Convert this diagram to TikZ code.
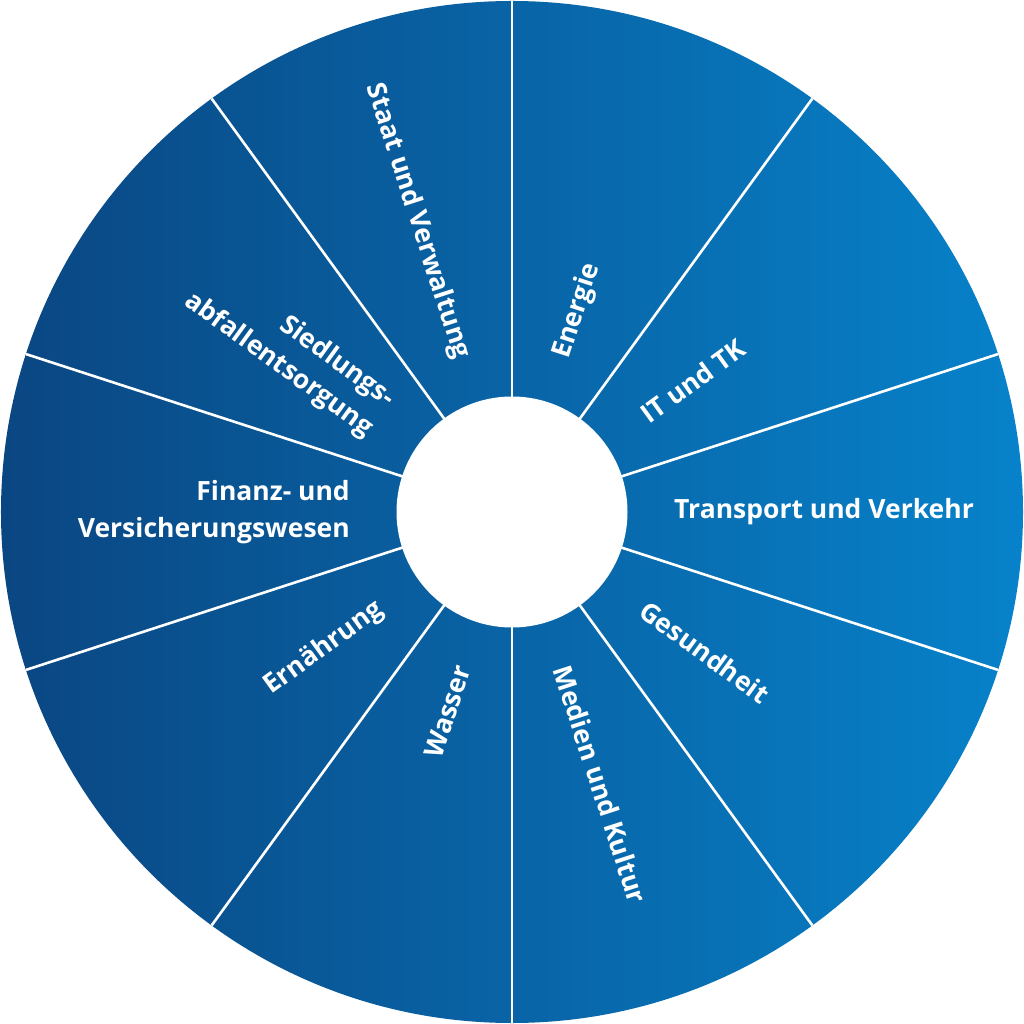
\documentclass[tikz,border=0pt]{standalone}
\usepackage{fontspec}
\setmainfont{Open Sans}
\begin{document}
\begin{tikzpicture}[x=1pt,y=1pt]
\definecolor{wheeldark}{HTML}{0A4682}
\definecolor{wheellight}{HTML}{0782CA}
\tikzset{
  sepline/.style={draw=white, line width=2.6pt},
  lab/.style={text=white, inner sep=0pt, font=\bfseries\fontsize{26.5}{36.5}\selectfont},
  labout/.style={lab, anchor=west, align=left},
  labin/.style={lab, anchor=east, align=right}
}
\useasboundingbox (-512,-512) rectangle (512,512);
\shade[left color=wheeldark, right color=wheellight] (0,0) circle (511);
\foreach \a in {90,54,18,-18,-54,-90,-126,-162,162,126}
  \draw[sepline] (\a:110) -- (\a:511);
\fill[white] (0,0) circle (115.5);
\coordinate (c) at (0,0);
% right half: text reads outward
\node[labout, rotate=72]  (energie)   at (72:162)  {Energie};
\node[labout, rotate=36]  (it)        at (36:162)  {IT und TK};
\node[labout]             (transport) at (0:162)   {Transport und Verkehr};
\node[labout, rotate=-36] (gesund)    at (-36:162) {Gesundheit};
\node[labout, rotate=-72] (medien)    at (-72:162) {Medien und Kultur};
% left half: text reads toward centre
\node[labin, rotate=72]   (wasser)    at (-108:162) {Wasser};
\node[labin, rotate=36]   (ernaehr)   at (-144:162) {Ernährung};
\node[labin]              (finanz)    at (180:162)  {Finanz- und\\Versicherungswesen};
\node[labin, rotate=-36]  (siedlung)  at (144:162)  {Siedlungs-\\abfallentsorgung};
\node[labin, rotate=-72]  (staat)     at (108:162)  {Staat und Verwaltung};
\end{tikzpicture}
\end{document}
